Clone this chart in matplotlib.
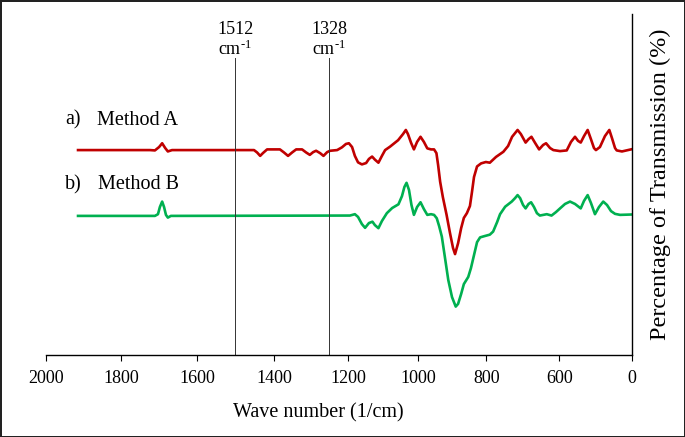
import numpy as np
import matplotlib
matplotlib.use('Agg')
import matplotlib.pyplot as plt

plt.rcParams['font.family'] = ['Liberation Serif', 'DejaVu Serif']
plt.rcParams['mathtext.fontset'] = 'custom'
plt.rcParams['mathtext.rm'] = 'Liberation Serif'
plt.rcParams['mathtext.default'] = 'regular'

# spectra: wave number (1/cm) and transmission (%)
wave_a = [1915, 1725, 1712, 1701, 1693, 1685, 1678, 1667, 1453, 1445, 1437, 1430,
          1419, 1385, 1374, 1363, 1352, 1341, 1325, 1314, 1304, 1295, 1287, 1276,
          1267, 1257, 1249, 1230, 1217, 1206, 1198, 1189, 1181, 1172, 1161, 1149,
          1141, 1132, 1124, 1114, 1104, 1095, 1081, 1058, 1044, 1036, 1030, 1021,
          1013, 1004, 994, 984, 974, 963, 954, 947, 942, 936, 928, 917, 907, 898,
          892, 883, 874, 866, 857, 848, 842, 836, 827, 815, 801, 790, 773, 753,
          740, 729, 714, 705, 692, 684, 676, 666, 655, 644, 636, 625, 616, 593,
          538, 503, 470, 445, 423, 396, 366, 339, 314, 298, 265, 224, 188, 166,
          141, 127, 84, 10]
trans_a = [60.1, 60.1, 60.0, 61.0, 62.1, 60.7, 59.7, 60.1, 60.1, 59.4, 58.4, 59.2,
           60.3, 60.3, 59.4, 58.4, 59.4, 60.3, 60.3, 59.4, 58.7, 59.5, 59.9, 59.2,
           58.4, 59.5, 59.9, 60.1, 60.9, 61.9, 62.1, 61.0, 58.4, 56.5, 55.9, 56.3,
           57.5, 58.2, 57.3, 56.4, 58.4, 60.1, 61.1, 63.0, 64.8, 66.0, 64.8, 62.2,
           60.3, 62.5, 64.0, 62.5, 60.6, 60.3, 60.3, 59.2, 55.7, 50.8, 46.3, 41.1,
           35.8, 31.4, 29.6, 32.8, 37.2, 40.2, 41.6, 43.7, 47.8, 52.2, 55.3, 56.2,
           56.6, 56.4, 58.1, 59.6, 61.3, 64.0, 66.0, 64.8, 62.3, 63.3, 64.0, 62.2,
           60.3, 61.6, 62.1, 60.7, 60.1, 59.8, 60.0, 62.5, 64.0, 62.8, 62.3, 64.2,
           66.0, 63.3, 60.7, 60.1, 61.0, 64.2, 66.0, 63.6, 60.7, 60.0, 59.7, 60.3]

wave_b = [1915, 1712, 1704, 1699, 1693, 1688, 1683, 1678, 1670, 1195, 1181, 1172,
          1161, 1152, 1141, 1131, 1124, 1114, 1104, 1090, 1075, 1057, 1047, 1040,
          1034, 1027, 1020, 1013, 1004, 994, 984, 974, 963, 954, 946, 939, 931,
          922, 912, 901, 890, 883, 874, 866, 853, 845, 836, 827, 818, 804, 790,
          781, 770, 762, 748, 730, 721, 714, 707, 699, 692, 684, 677, 669, 661,
          653, 634, 621, 609, 593, 552, 511, 470, 423, 396, 366, 339, 306, 273,
          238, 207, 174, 141, 100, 10]
trans_b = [40.8, 40.8, 41.3, 43.4, 45.0, 43.4, 41.1, 40.3, 40.8, 40.9, 41.3, 40.5,
           38.4, 37.3, 38.7, 39.1, 38.1, 37.2, 39.3, 41.6, 43.1, 44.2, 46.6, 49.3,
           50.5, 48.4, 44.0, 41.1, 43.4, 44.8, 42.8, 41.1, 41.3, 41.1, 40.1, 37.8,
           34.7, 28.7, 22.0, 17.0, 14.2, 15.0, 17.9, 20.8, 22.9, 25.5, 29.3, 33.1,
           34.5, 34.9, 35.3, 36.2, 39.0, 41.3, 43.5, 45.0, 46.0, 46.9, 46.0, 44.0,
           43.0, 44.3, 44.8, 43.4, 41.6, 40.9, 41.3, 40.9, 41.9, 43.0, 44.3, 45.0,
           44.3, 43.0, 45.2, 46.9, 44.6, 41.3, 43.4, 45.0, 44.0, 42.2, 41.4, 41.1,
           41.2]

marker_waves = [1502, 1252]
marker_labels = ['1512', '1328']
tick_vals = [0, 600, 800, 1000, 1200, 1400, 1600, 1800, 2000]

# the drawn axis is not linear: spacing of the ticks along the axis
tick_pos = [0, 73, 146, 213.7, 284, 357.8, 434.7, 510.7, 586.3]


def forward(w):
    return np.interp(w, tick_vals, tick_pos)


def inverse(p):
    return np.interp(p, tick_pos, tick_vals)


fig = plt.figure(figsize=(6.85, 4.37), dpi=100)
fig.patch.set_edgecolor('#222222')
fig.patch.set_linewidth(2)
ax = fig.add_axes([0.067, 0.1876, 0.8559, 0.7803])
ax.set_xscale('function', functions=(forward, inverse))
ax.set_xlim(2000, 0)
ax.set_ylim(0, 100)

ax.plot(wave_a, trans_a, color='#C00000', lw=1.9, solid_joinstyle='round')
ax.plot(wave_b, trans_b, color='#00B050', lw=1.9, solid_joinstyle='round')

for w, lab in zip(marker_waves, marker_labels):
    ax.plot([w, w], [0, 87.1], color='#333333', lw=0.7)
    ax.text(w, 92.3, lab + '\ncm$^{\\text{-1}}$', ha='center', va='center',
            fontsize=13, linespacing=1.1)

ax.text(1949, 68.9, 'a)', ha='left', va='center', fontsize=14.5)
ax.text(1865, 68.9, 'Method A', ha='left', va='center', fontsize=14.5)
ax.text(1949, 49.9, 'b)', ha='left', va='center', fontsize=14.5)
ax.text(1862, 49.9, 'Method B', ha='left', va='center', fontsize=14.5)

ax.set_xticks(tick_vals)
ax.set_xticklabels([str(v) for v in tick_vals])
ax.xaxis.set_minor_locator(plt.NullLocator())
ax.tick_params(axis='x', direction='out', length=4, width=0.8, labelsize=13, pad=7)
ax.set_yticks([])
ax.spines['top'].set_visible(False)
ax.spines['left'].set_visible(False)
ax.spines['right'].set_linewidth(1.0)
ax.spines['bottom'].set_linewidth(1.0)

ax.set_xlabel('Wave number (1/cm)', fontsize=14.5)
ax.xaxis.set_label_coords(0.464, -0.14)
ax.yaxis.set_label_position('right')
ax.set_ylabel('Percentage of Transmission (%)', fontsize=17.5, labelpad=13)

fig.savefig('out.png', dpi=100)
